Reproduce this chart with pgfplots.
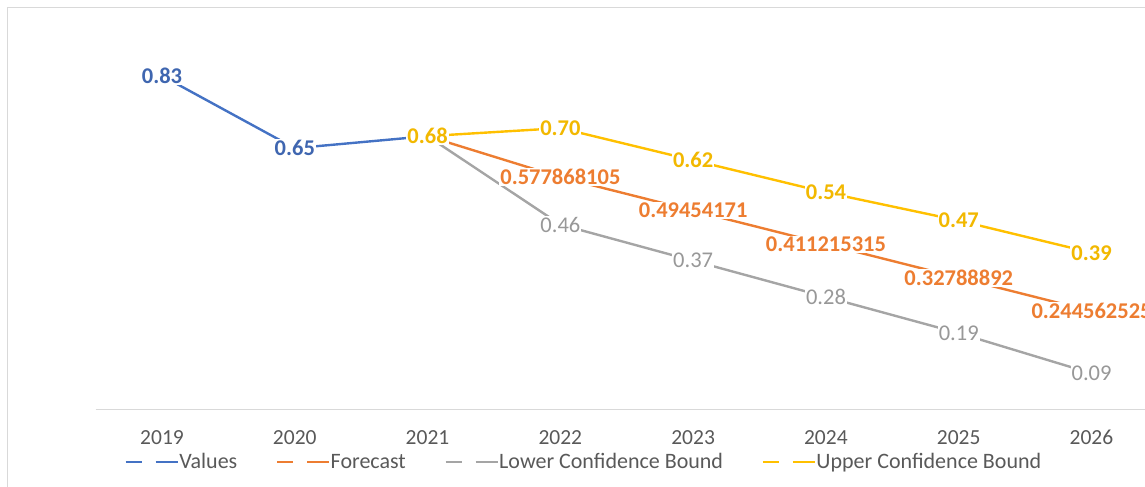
\documentclass[border=0pt]{standalone}
\usepackage{fontspec}
\setmainfont{Carlito}
\usepackage{pgfplots}
\pgfplotsset{compat=1.18}
\usepackage{pgfplotstable}

\definecolor{cval}{HTML}{4472C4}
\definecolor{valtxt}{HTML}{3F66B0}
\definecolor{cfor}{HTML}{ED7D31}
\definecolor{clow}{HTML}{A5A5A5}
\definecolor{cupp}{HTML}{FFC000}
\definecolor{lowtxt}{HTML}{989898}
\definecolor{upptxt}{HTML}{F2B800}
\definecolor{tickgray}{HTML}{595959}
\definecolor{axisgray}{HTML}{D9D9D9}
\definecolor{framegray}{HTML}{D9D9D9}

\newcommand\tickfont{\fontsize{21.5bp}{25bp}\selectfont}
\newcommand\legfont{\fontsize{22bp}{26bp}\selectfont}
\newcommand\lblfont{\fontsize{22.5bp}{26bp}\selectfont}

% data: year, value, label text
\pgfplotstableread{
year y lab
2019 0.83 0.83
2020 0.65 0.65
2021 0.68 0.68
}\tvalues
\pgfplotstableread{
year y lab
2021 0.68 0.68
2022 0.577868105 0.577868105
2023 0.49454171 0.49454171
2024 0.411215315 0.411215315
2025 0.32788892 0.32788892
2026 0.244562525 0.244562525
}\tforecast
\pgfplotstableread{
year y lab
2021 0.68 0.68
2022 0.46 0.46
2023 0.37 0.37
2024 0.28 0.28
2025 0.19 0.19
2026 0.09 0.09
}\tlower
\pgfplotstableread{
year y lab
2021 0.68 0.68
2022 0.70 0.70
2023 0.62 0.62
2024 0.54 0.54
2025 0.47 0.47
2026 0.39 0.39
}\tupper

\tikzset{
  lbl/.style={anchor=center, fill=white, inner sep=1bp},
}

\begin{document}
\begin{tikzpicture}
  % chart frame (left and top edges visible)
  \draw[framegray, line width=1bp] (-87.6bp,-100bp) -- (-87.6bp,401.5bp) -- (1300bp,401.5bp);
  \begin{axis}[
    at={(0,0)}, anchor=south west,
    scale only axis, width=1062.4bp, height=402bp,
    xmin=2018.5, xmax=2026.5, ymin=0, ymax=1,
    clip=false,
    axis x line*=bottom, axis y line=none,
    x axis line style={draw=axisgray, line width=1.2bp},
    xtick={2019,...,2026},
    xticklabels={2019,2020,2021,2022,2023,2024,2025,2026},
    major tick length=0pt,
    xticklabel style={font=\tickfont, text=tickgray, anchor=base, yshift=-35bp},
    legend columns=4,
    legend style={at={(0.027,-0.1306)}, anchor=west, draw=none, fill=none,
      inner sep=0pt, font=\legfont, text=tickgray,
      /tikz/every even column/.append style={column sep=38bp},
      nodes={inner xsep=0.5bp, inner ysep=0pt}},
    legend image code/.code={%
      \draw[#1, line width=2.4bp] (0bp,0bp) -- (16bp,0bp) (30bp,0bp) -- (52bp,0bp);},
  ]
    \addplot[cval, line width=2.4bp] table[x=year, y=y] {\tvalues};
    \addplot[cfor, line width=2.4bp] table[x=year, y=y] {\tforecast};
    \addplot[clow, line width=2.4bp] table[x=year, y=y] {\tlower};
    \addplot[cupp, line width=2.4bp] table[x=year, y=y] {\tupper};
    \legend{Values, Forecast, Lower Confidence Bound, Upper Confidence Bound}

    % data labels, drawn above all lines
    \addplot[draw=none, forget plot, nodes near coords, point meta=explicit symbolic,
      every node near coord/.append style={lbl, text=valtxt, font=\lblfont\bfseries}]
      table[x=year, y=y, meta=lab] {\tvalues};
    \addplot[draw=none, forget plot, nodes near coords, point meta=explicit symbolic,
      skip coords between index={0}{1},
      every node near coord/.append style={lbl, text=cfor, font=\lblfont\bfseries}]
      table[x=year, y=y, meta=lab] {\tforecast};
    \addplot[draw=none, forget plot, nodes near coords, point meta=explicit symbolic,
      skip coords between index={0}{1},
      every node near coord/.append style={lbl, text=lowtxt, font=\lblfont}]
      table[x=year, y=y, meta=lab] {\tlower};
    \addplot[draw=none, forget plot, nodes near coords, point meta=explicit symbolic,
      every node near coord/.append style={lbl, text=upptxt, font=\lblfont\bfseries}]
      table[x=year, y=y, meta=lab] {\tupper};
  \end{axis}
  \pgfresetboundingbox
  \useasboundingbox (-95.6bp,-77.5bp) rectangle (1049.4bp,409.5bp);
\end{tikzpicture}
\end{document}
